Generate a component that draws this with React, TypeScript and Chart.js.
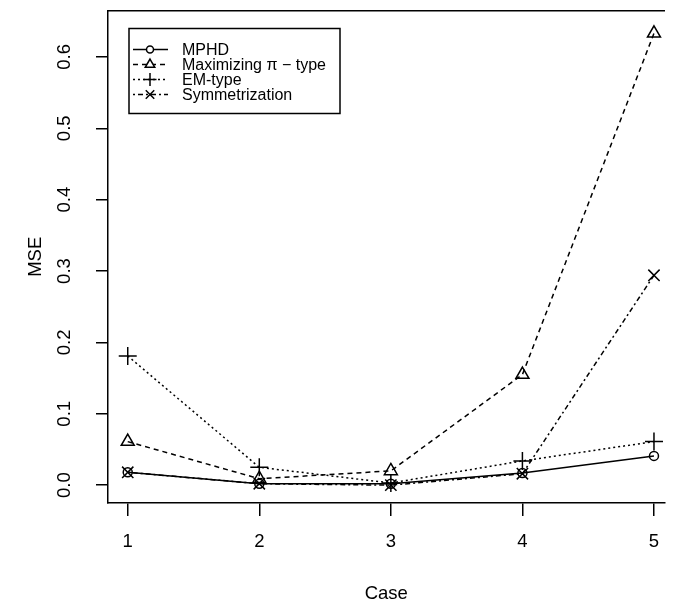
import { useEffect, useRef } from "react";
import { Chart, registerables } from "chart.js";
import { drawPoint } from "chart.js/helpers";

Chart.register(...registerables);

const cases = [1, 2, 3, 4, 5];
const mphd = [0.018, 0.002, 0.002, 0.017, 0.041];
const maximizing = [0.061, 0.009, 0.02, 0.155, 0.633];
const emType = [0.181, 0.025, 0.003, 0.034, 0.061];
const symmetrization = [0.018, 0.002, 0.0, 0.016, 0.294];
const seriesNames = ["MPHD", "Maximizing \u03c0 \u2212 type", "EM-type", "Symmetrization"];
const yTicks = [0, 0.1, 0.2, 0.3, 0.4, 0.5, 0.6];
const xRange = [0.85, 5.08];
const yRange = [-0.025, 0.665];
const xTitle = "Case";
const yTitle = "MSE";

const FONT = "'Liberation Sans', Arial, Helvetica, sans-serif";

const legendPlugin = {
  id: "rLegend",
  afterDraw(chart: any) {
    const { ctx, chartArea } = chart;
    const x0 = chartArea.left + 21;
    const y0 = chartArea.top + 18;
    const w = 211;
    const h = 85;
    ctx.save();
    ctx.strokeStyle = "#000";
    ctx.lineWidth = 1.5;
    ctx.strokeRect(x0, y0, w, h);
    ctx.font = `16px ${FONT}`;
    ctx.fillStyle = "#000";
    ctx.textBaseline = "middle";
    ctx.textAlign = "left";
    chart.data.datasets.forEach((ds: any, i: number) => {
      const y = y0 + 21 + i * 15;
      ctx.save();
      ctx.strokeStyle = "#000";
      ctx.lineWidth = 1.5;
      ctx.setLineDash(ds.borderDash || []);
      ctx.beginPath();
      ctx.moveTo(x0 + 4, y);
      ctx.lineTo(x0 + 39, y);
      ctx.stroke();
      ctx.setLineDash([]);
      ctx.fillStyle = "#fff";
      ctx.strokeStyle = "#000";
      drawPoint(ctx, { pointStyle: ds.pointStyle, radius: ds.legendRadius, borderWidth: 1.5, rotation: 0 }, x0 + 21, y);
      ctx.restore();
      ctx.fillText(ds.label, x0 + 53, y + 1);
    });
    ctx.restore();
  },
};

function toPoints(vals: number[]) {
  return cases.map((c, i) => ({ x: c, y: vals[i] }));
}

const zeroPad = (s: any) => {
  s.paddingLeft = 0;
  s.paddingRight = 0;
  s.paddingTop = 0;
  s.paddingBottom = 0;
};

export default function App() {
  const ref = useRef<HTMLCanvasElement>(null);
  useEffect(() => {
    if (!ref.current) return;
    const common = {
      borderColor: "#000",
      borderWidth: 1.5,
      pointBorderColor: "#000",
      pointBackgroundColor: "rgba(255,255,255,0)",
      pointBorderWidth: 1.5,
      fill: false,
      tension: 0,
    };
    const chart = new Chart(ref.current, {
      type: "line",
      data: {
        datasets: [
          { ...common, label: seriesNames[0], data: toPoints(mphd), pointStyle: "circle", pointRadius: 4.5, legendRadius: 3.5 } as any,
          { ...common, label: seriesNames[1], data: toPoints(maximizing), borderDash: [5, 4], pointStyle: "triangle", pointRadius: 7.5, legendRadius: 5.5 } as any,
          { ...common, label: seriesNames[2], data: toPoints(emType), borderDash: [2, 3], pointStyle: "cross", pointRadius: 9, legendRadius: 6.5 } as any,
          { ...common, label: seriesNames[3], data: toPoints(symmetrization), borderDash: [2, 3, 5, 3], pointStyle: "crossRot", pointRadius: 8, legendRadius: 6 } as any,
        ],
      },
      options: {
        responsive: false,
        animation: false,
        layout: { padding: { top: 6, left: 0, right: 0, bottom: 0 } },
        plugins: { legend: { display: false }, tooltip: { enabled: false } },
        scales: {
          x: {
            type: "linear",
            position: "bottom",
            min: xRange[0],
            max: xRange[1],
            afterBuildTicks: (s: any) => {
              s.ticks = cases.map((v) => ({ value: v }));
            },
            afterFit: (s: any) => {
              s.height = 104;
              zeroPad(s);
            },
            grid: { display: true, drawOnChartArea: false, drawTicks: true, tickLength: 13, color: "#000", lineWidth: 1.5 },
            border: { display: true, color: "#000", width: 1.5 },
            ticks: { color: "#000", font: { family: FONT, size: 18.5 }, padding: 15, maxRotation: 0, minRotation: 0, callback: (v: any) => String(v) },
            title: { display: true, text: xTitle, color: "#000", font: { family: FONT, size: 18.5 }, padding: { top: 0, bottom: 2 } },
          },
          x2: {
            type: "linear",
            position: "top",
            display: true,
            min: xRange[0],
            max: xRange[1],
            afterFit: (s: any) => {
              s.height = 0;
              zeroPad(s);
            },
            grid: { display: false, drawTicks: false },
            border: { display: true, color: "#000", width: 1.5 },
            ticks: { display: false },
          },
          y: {
            type: "linear",
            position: "left",
            min: yRange[0],
            max: yRange[1],
            afterBuildTicks: (s: any) => {
              s.ticks = yTicks.map((v) => ({ value: v }));
            },
            afterFit: (s: any) => {
              s.width = 108;
              zeroPad(s);
            },
            grid: { display: true, drawOnChartArea: false, drawTicks: true, tickLength: 12, color: "#000", lineWidth: 1.5 },
            border: { display: true, color: "#000", width: 1.5 },
            ticks: {
              color: "#000",
              font: { family: FONT, size: 18.5 },
              padding: 18,
              minRotation: 90,
              maxRotation: 90,
              crossAlign: "center",
              callback: (v: any) => Number(v).toFixed(1),
            },
            title: { display: true, text: yTitle, color: "#000", font: { family: FONT, size: 18.5 }, padding: { top: 25, bottom: 0 } },
          },
        },
      } as any,
      plugins: [legendPlugin],
    });
    return () => chart.destroy();
  }, []);
  return (
    <div style={{ position: "fixed", left: 0, top: 0, width: 675, height: 607, background: "#fff" }}>
      <canvas ref={ref} width={675} height={607} />
    </div>
  );
}
